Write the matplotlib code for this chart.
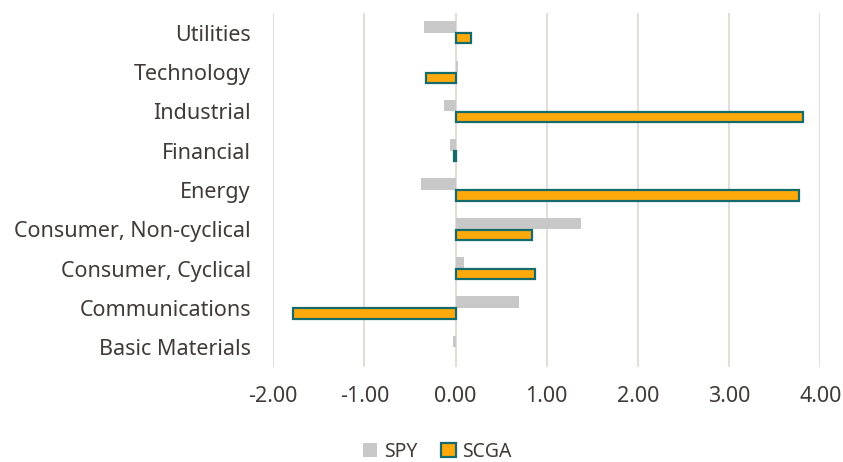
import matplotlib
matplotlib.use("Agg")
import matplotlib.pyplot as plt
from matplotlib.patches import Patch
import numpy as np

categories = ["Basic Materials", "Communications", "Consumer, Cyclical",
              "Consumer, Non-cyclical", "Energy", "Financial",
              "Industrial", "Technology", "Utilities"]
spy = [-0.03, 0.70, 0.09, 1.38, -0.38, -0.06, -0.13, 0.03, -0.35]
scga = [0.00, -1.78, 0.87, 0.84, 3.77, -0.02, 3.81, -0.32, 0.17]
xticks = [-2, -1, 0, 1, 2, 3, 4]

text_color = "#403b39"
gray = "#c8c8c8"
orange = "#ffa90a"
teal = "#156b6b"
plt.rcParams.update({
    "font.family": ["Noto Sans", "DejaVu Sans"],
    "font.size": 15.5,
    "text.color": text_color,
    "xtick.color": text_color,
    "ytick.color": text_color,
})

fig = plt.figure(figsize=(8.43, 4.62), dpi=100)
ax = fig.add_axes([0.324, 0.206, 0.649, 0.766])

y = np.arange(len(categories))
h = 0.29
ax.barh(y + h / 2, spy, height=h, color=gray, zorder=3)
edges = [teal if v != 0 else "none" for v in scga]
ax.barh(y - h / 2, scga, height=h - 0.03, color=orange, edgecolor=edges,
        linewidth=1.6, zorder=3)

ax.set_xlim(-2, 4)
ax.set_ylim(-0.5, len(categories) - 0.5)
ax.set_xticks(xticks)
ax.set_xticklabels([f"{v:.2f}" for v in xticks])
ax.set_yticks(y)
ax.set_yticklabels(categories)
ax.tick_params(length=0)
ax.tick_params(axis="y", pad=16)
ax.tick_params(axis="x", pad=14)
ax.grid(axis="x", color="#e2deda", linewidth=1.5, zorder=0)
ax.axvline(0, color="#e2deda", linewidth=1.5, zorder=2)
for s in ax.spines.values():
    s.set_visible(False)

handles = [Patch(facecolor=gray, label="SPY"),
           Patch(facecolor=orange, edgecolor=teal, linewidth=1.6, label="SCGA")]
ax.legend(handles=handles, loc="center", bbox_to_anchor=(0.30, -0.24), ncol=2,
          frameon=False, fontsize=14, handlelength=0.75, handleheight=0.75,
          columnspacing=1.2, handletextpad=0.35, borderpad=0)

fig.savefig("out.png", dpi=100)
